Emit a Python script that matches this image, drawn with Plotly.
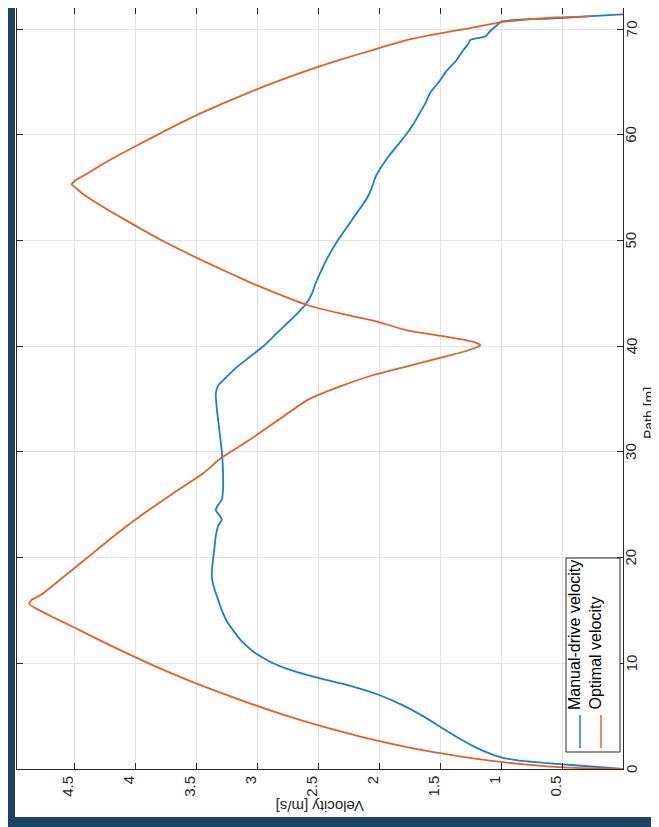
import plotly.graph_objects as go

# ---- data (path in m, velocity in m/s) ----
path_manual = [0, 0.4, 0.8, 1.1, 1.5, 2.0, 3.0, 4.0, 5.0, 6.0, 7.0, 8.0, 8.5, 9.0, 9.5, 10.0,
               11.0, 12.0, 13.0, 14.0, 15.0, 16.0, 17.0, 18.0, 19.0, 20.0, 21.0, 22.0, 23.0,
               23.6, 24.0, 24.5, 25.0, 25.5, 26.5, 28.0, 30.0, 32.0, 34.0, 35.5, 36.3, 37.0,
               38.0, 39.0, 40.0, 41.0, 42.0, 43.0, 44.0, 45.0, 46.0, 47.0, 48.0, 50.0, 52.0,
               54.0, 55.0, 56.0, 57.0, 58.0, 59.0, 60.0, 61.0, 62.0, 63.0, 64.0, 65.0, 66.0,
               67.0, 68.0, 68.6, 69.0, 69.3, 69.8, 70.3, 70.7, 70.9, 71.0, 71.2, 71.4]
vel_manual = [0, 0.45, 0.85, 1.0, 1.1, 1.2, 1.36, 1.5, 1.64, 1.8, 2.0, 2.28, 2.46, 2.62, 2.76, 2.87,
              3.02, 3.12, 3.19, 3.25, 3.29, 3.32, 3.35, 3.37, 3.37, 3.36, 3.35, 3.34, 3.32,
              3.29, 3.31, 3.34, 3.32, 3.29, 3.28, 3.28, 3.29, 3.31, 3.33, 3.34, 3.32, 3.26,
              3.17, 3.06, 2.95, 2.86, 2.77, 2.68, 2.60, 2.55, 2.52, 2.48, 2.44, 2.34, 2.22,
              2.10, 2.06, 2.03, 1.98, 1.92, 1.85, 1.78, 1.72, 1.67, 1.62, 1.58, 1.51, 1.45,
              1.37, 1.31, 1.27, 1.25, 1.13, 1.09, 1.04, 1.00, 0.86, 0.60, 0.30, 0.0]

path_opt = [0, 0.1, 0.3, 0.6, 1.0, 1.5, 2.0, 3.0, 4.0, 5.0, 6.5, 8.0, 10.0, 12.0, 13.5, 14.5,
            15.1, 15.6, 16.0, 16.5, 17.5, 19.0, 20.5, 22.0, 24.0, 26.0, 28.0, 29.4, 31.0, 33.0,
            34.9, 36.2, 37.3, 38.1, 38.9, 39.5, 39.9, 40.1, 40.3, 40.6, 41.0, 41.5, 42.4, 43.1,
            43.9, 45.0, 46.0, 48.0, 50.0, 52.0, 53.5, 54.5, 55.0, 55.3, 55.7, 56.3, 57.0, 58.0,
            60.0, 62.0, 64.0, 66.0, 67.0, 68.0, 69.0, 69.6, 70.1, 70.6, 70.9, 71.1, 71.2]
vel_opt = [0, 0.39, 0.67, 0.95, 1.23, 1.50, 1.74, 2.13, 2.46, 2.75, 3.13, 3.48, 3.89, 4.26, 4.52, 4.70,
           4.80, 4.87, 4.85, 4.77, 4.66, 4.50, 4.34, 4.18, 3.95, 3.70, 3.44, 3.30, 3.08, 2.83,
           2.59, 2.32, 2.04, 1.77, 1.50, 1.30, 1.20, 1.17, 1.20, 1.30, 1.50, 1.77, 2.04, 2.32,
           2.59, 2.84, 3.05, 3.43, 3.78, 4.09, 4.31, 4.44, 4.49, 4.52, 4.49, 4.40, 4.30, 4.15,
           3.82, 3.47, 3.07, 2.61, 2.35, 2.06, 1.76, 1.50, 1.25, 1.03, 0.80, 0.55, 0.27]

vel_ticks = [0.5, 1, 1.5, 2, 2.5, 3, 3.5, 4, 4.5]
vel_ticklabels = ["0.5", "1", "1.5", "2", "2.5", "3", "3.5", "4", "4.5"]
path_ticks = [0, 10, 20, 30, 40, 50, 60, 70]
path_ticklabels = ["0", "10", "20", "30", "40", "50", "60", "70"]
series_names = ["Manual-drive velocity", "Optimal velocity"]

BLUE = "#1f7ec4"
ORANGE = "#e0612b"
DARK = "#1c4362"
AX = "#262626"
FONT = "Liberation Sans, Arial, sans-serif"

W, H = 659, 827
L, R, T, B = 9, 44, 0, 66
pw, ph = W - L - R, H - T - B
ROT_SHIFT = -7  # compensates plotly's offset of -90deg rotated text


def px(x):
    return (x - L) / pw


def py(y):
    return (H - B - y) / ph


fig = go.Figure()
fig.add_trace(go.Scatter(x=vel_manual, y=path_manual, mode="lines",
                         line=dict(color=BLUE, width=1.8, shape="spline", smoothing=0.5),
                         name=series_names[0], showlegend=False))
fig.add_trace(go.Scatter(x=vel_opt, y=path_opt, mode="lines",
                         line=dict(color=ORANGE, width=1.8, shape="spline", smoothing=0.5),
                         name=series_names[1], showlegend=False))

shapes = [
    dict(type="rect", xref="paper", yref="paper", x0=px(0), x1=px(7), y0=py(823), y1=py(0) + 0.01,
         fillcolor=DARK, line=dict(width=0), layer="above"),
    dict(type="rect", xref="paper", yref="paper", x0=px(0), x1=px(W), y0=py(823), y1=py(809),
         fillcolor=DARK, line=dict(width=0), layer="above"),
    dict(type="rect", xref="paper", yref="paper", x0=px(558), x1=px(612), y0=py(744), y1=py(550),
         fillcolor="white", line=dict(color=AX, width=1), layer="above"),
    dict(type="line", xref="paper", yref="paper", x0=px(572), x1=px(572), y0=py(740), y1=py(707),
         line=dict(color=BLUE, width=1.5), layer="above"),
    dict(type="line", xref="paper", yref="paper", x0=px(593), x1=px(593), y0=py(740), y1=py(707),
         line=dict(color=ORANGE, width=1.5), layer="above"),
]

annotations = [
    dict(text="Velocity [m/s]", xref="paper", yref="paper", x=px(312), y=py(798),
         textangle=180, showarrow=False, font=dict(family=FONT, size=15, color=AX),
         xanchor="center", yanchor="middle"),
    dict(text="Path [m]", xref="paper", yref="paper", x=px(648), y=py(405), xshift=ROT_SHIFT,
         textangle=-90, showarrow=False, font=dict(family=FONT, size=14, color=AX),
         xanchor="center", yanchor="middle"),
    dict(text=series_names[0], xref="paper", yref="paper", x=px(573), y=py(704), xshift=ROT_SHIFT,
         textangle=-90, showarrow=False, font=dict(family=FONT, size=16, color="#000000"),
         xanchor="center", yanchor="bottom"),
    dict(text=series_names[1], xref="paper", yref="paper", x=px(594), y=py(704), xshift=ROT_SHIFT,
         textangle=-90, showarrow=False, font=dict(family=FONT, size=16, color="#000000"),
         xanchor="center", yanchor="bottom"),
    dict(text="0", xref="paper", yref="paper", x=px(630), y=py(834), xshift=ROT_SHIFT,
         textangle=-90, showarrow=False, font=dict(family=FONT, size=15, color=AX),
         xanchor="center", yanchor="middle"),
]

# tick labels placed at the axis tick positions (rotated like the reference)
for v, t in zip(vel_ticks, vel_ticklabels):
    annotations.append(dict(text=t, xref="x", yref="paper", x=v, y=py(766), xshift=ROT_SHIFT,
                            textangle=-90, showarrow=False,
                            font=dict(family=FONT, size=15, color=AX),
                            xanchor="center", yanchor="top"))
for p, t in zip(path_ticks, path_ticklabels):
    annotations.append(dict(text=t, xref="paper", yref="y", x=px(630), y=p, xshift=ROT_SHIFT,
                            textangle=-90, showarrow=False,
                            font=dict(family=FONT, size=15, color=AX),
                            xanchor="center", yanchor="middle"))

fig.update_layout(
    width=W, height=H,
    margin=dict(l=L, r=R, t=T, b=B, pad=0),
    paper_bgcolor="white", plot_bgcolor="white",
    showlegend=False,
    shapes=shapes, annotations=annotations,
    font=dict(family=FONT, size=15, color=AX),
    xaxis=dict(range=[4.97, 0], tickvals=vel_ticks, showticklabels=False,
               ticks="inside", ticklen=6, tickcolor=AX,
               showline=True, linecolor=AX, linewidth=1, mirror="ticks",
               showgrid=True, gridcolor="#e3e3e3", gridwidth=1, zeroline=False),
    yaxis=dict(range=[0, 72], tickvals=path_ticks, side="right", showticklabels=False,
               ticks="inside", ticklen=6, tickcolor=AX,
               showline=True, linecolor=AX, linewidth=1, mirror="ticks",
               showgrid=True, gridcolor="#e3e3e3", gridwidth=1, zeroline=False),
)

fig.write_html("out.html")
